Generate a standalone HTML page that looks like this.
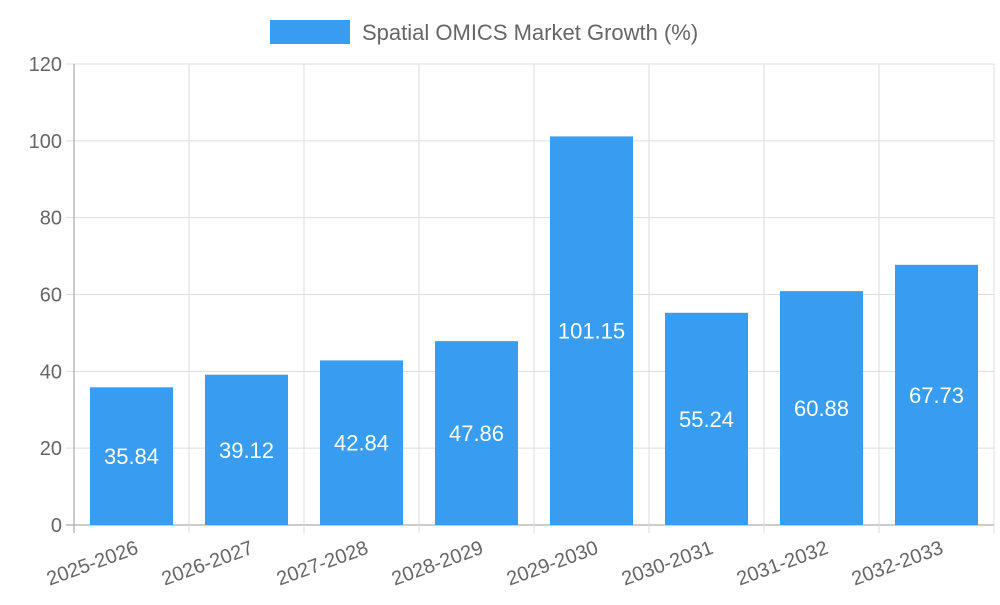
<!DOCTYPE html>
<html><head><meta charset="utf-8"><style>
body{margin:0;background:#fff;}
svg{font-family:"Liberation Sans",sans-serif;}
</style></head><body>
<svg id="chart" width="1000" height="600">
<g>
<rect x="270" y="20" width="80" height="24" fill="#389cf0"/>
<text x="362" y="40" font-size="22" fill="#666">Spatial OMICS Market Growth (%)</text>
</g>
<g id="grid"></g><g id="bars"></g><g id="axes"></g>
</svg>
<script>
const categories=["2025-2026","2026-2027","2027-2028","2028-2029","2029-2030","2030-2031","2031-2032","2032-2033"];
const values=[35.84,39.12,42.84,47.86,101.15,55.24,60.88,67.73];
const yTicks=[0,20,40,60,80,100,120];
const L=74,R=994,T=64,B=525,yMax=120;
const step=(R-L)/categories.length,bw=83;
const y=v=>B-(v/yMax)*(B-T);
const x=i=>L+step*i;
const NS="http://www.w3.org/2000/svg";
function mk(t,a,p){const e=document.createElementNS(NS,t);for(const k in a)e.setAttribute(k,a[k]);p.appendChild(e);return e;}
const grid=document.getElementById('grid'),bars=document.getElementById('bars'),axes=document.getElementById('axes');
yTicks.forEach(v=>{
 const l=mk('line',{x1:L-8,x2:R,y1:y(v),y2:y(v),stroke:v===0?'#999':'#ddd','stroke-width':1},grid);
 
 
 const t=mk('text',{x:L-12,y:y(v)+7,'text-anchor':'end','font-size':20,fill:'#666'},axes);
 t.textContent=v;
 
 
});
for(let i=0;i<=categories.length;i++){
 const l=mk('line',{x1:x(i),x2:x(i),y1:T,y2:B+8,stroke:i===0?'#999':'#ddd','stroke-width':1},grid);
 
 
}
categories.forEach((c,i)=>{
 const cx=x(i)+step/2;
 const r=mk('rect',{x:cx-bw/2,y:y(values[i]),width:bw,height:B-y(values[i]),fill:'#389cf0'},bars);
 
 
 const vt=mk('text',{x:cx,y:(y(values[i])+B)/2+8,'text-anchor':'middle','font-size':22,fill:'#fff'},bars);
 vt.textContent=values[i].toFixed(2);
 
 
 const t=mk('text',{x:cx+8,y:B+28,'text-anchor':'end','font-size':20,fill:'#666',transform:`rotate(-20 ${cx+8} ${B+28})`},axes);
 t.textContent=c;
 
 
});
</script>
</body></html>
